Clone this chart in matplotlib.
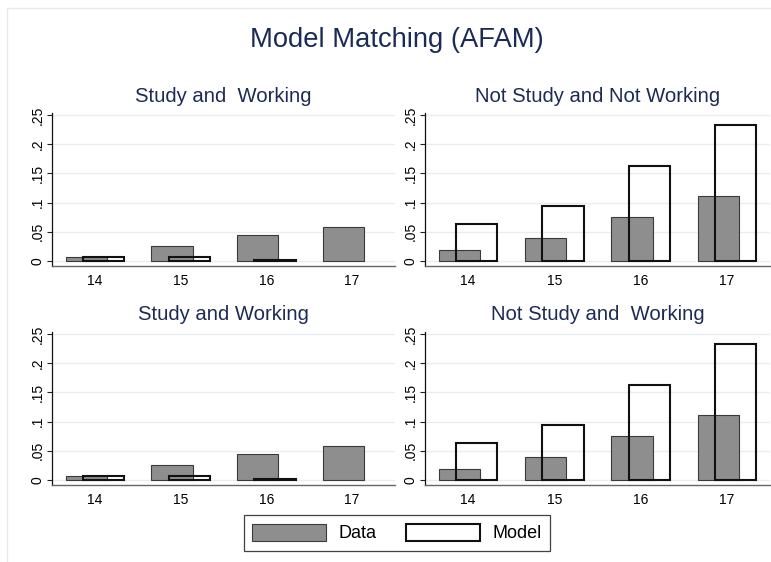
import matplotlib
matplotlib.use("Agg")
import matplotlib.pyplot as plt
from matplotlib.patches import Rectangle, Patch

plt.rcParams['font.family'] = ['Liberation Sans', 'DejaVu Sans']

ages = [14, 15, 16, 17]
age_labels = ["14", "15", "16", "17"]
ytick_vals = [0, 0.05, 0.1, 0.15, 0.2, 0.25]
ytick_labels = ["0", ".05", ".1", ".15", ".2", ".25"]

main_title = "Model Matching (AFAM)"
titles = ["Study and  Working", "Not Study and Not Working",
          "Study and Working", "Not Study and  Working"]

sw_top_data = [0.0063, 0.0257, 0.044, 0.058]
sw_top_model = [0.0063, 0.0060, 0.0012, 0.0]
nsnw_data = [0.0196, 0.039, 0.0745, 0.112]
nsnw_model = [0.0635, 0.095, 0.1625, 0.233]
sw_bot_data = [0.0063, 0.0257, 0.044, 0.058]
sw_bot_model = [0.0063, 0.0060, 0.0012, 0.0]
nsw_data = [0.0196, 0.039, 0.0745, 0.112]
nsw_model = [0.0635, 0.095, 0.1625, 0.233]

panels = [(sw_top_data, sw_top_model), (nsnw_data, nsnw_model),
          (sw_bot_data, sw_bot_model), (nsw_data, nsw_model)]

W, H = 771, 562
fig = plt.figure(figsize=(W / 100, H / 100), dpi=100)
fig.patch.set_facecolor("white")

# light outer frame
fig.add_artist(Rectangle((7 / W, -0.01), 1.0, 1 - 8 / H + 0.01, transform=fig.transFigure,
                         fill=False, edgecolor="#e4ebee", linewidth=1.0))

navy = "#1c2b56"
data_fill = "#8e8e8e"
data_edge = "#3a3a3a"
grid_c = "#e6eef0"

# panel pixel boxes: (x0, x1, ytop, ybottom)
boxes = [(52, 395, 113, 266), (425, 770, 113, 266),
         (52, 395, 332, 485), (425, 770, 332, 485)]
title_y = [97, 97, 314, 314]

for (d, m), (x0, x1, yt, yb), t, ty in zip(panels, boxes, titles, title_y):
    ax = fig.add_axes([x0 / W, 1 - yb / H, (x1 - x0) / W, (yb - yt) / H])
    ax.set_xlim(13.5, 17.5)
    ax.set_ylim(-0.0086, 0.2534)
    for v in ytick_vals:
        ax.axhline(v, color=grid_c, lw=1.0, zorder=0)
    ax.bar([a - 0.1 for a in ages], d, width=0.48, color=data_fill,
           edgecolor=data_edge, linewidth=0.8, zorder=2)
    mx = [a + 0.1 for a, v in zip(ages, m) if v > 0]
    mv = [v for v in m if v > 0]
    ax.bar(mx, mv, width=0.48, fill=False,
           edgecolor="#111111", linewidth=1.5, zorder=3)
    ax.set_yticks(ytick_vals)
    ax.set_yticklabels(ytick_labels, rotation=90, va="center", fontsize=10)
    ax.set_xticks(ages)
    ax.set_xticklabels(age_labels, fontsize=10)
    ax.tick_params(axis="y", length=3.5, width=0.8, pad=2, color="#222222")
    ax.tick_params(axis="x", length=0, pad=6)
    for s in ["top", "right"]:
        ax.spines[s].set_visible(False)
    ax.spines["left"].set_color("#111111")
    ax.spines["left"].set_linewidth(0.9)
    ax.spines["bottom"].set_color("#666666")
    ax.spines["bottom"].set_linewidth(1.0)
    ax.set_facecolor("white")
    fig.text((x0 + x1) / 2 / W, 1 - ty / H, t, ha="center", va="center",
             fontsize=14.6, color=navy)

fig.text(397 / W, 1 - 40 / H, main_title, ha="center", va="center",
         fontsize=19.7, color=navy)

handles = [Patch(facecolor=data_fill, edgecolor=data_edge, linewidth=0.8),
           Patch(facecolor="white", edgecolor="#111111", linewidth=1.5)]
leg = fig.legend(handles, ["Data", "Model"], loc="center",
                 bbox_to_anchor=(397 / W, 1 - 533 / H), ncol=2, fontsize=13,
                 frameon=True, fancybox=False, edgecolor="#111111",
                 handlelength=4.1, handleheight=1.1, columnspacing=1.6,
                 handletextpad=0.7, borderpad=0.45, borderaxespad=0)
leg.get_frame().set_linewidth(0.9)

fig.savefig("out.png", dpi=100, facecolor="white")
